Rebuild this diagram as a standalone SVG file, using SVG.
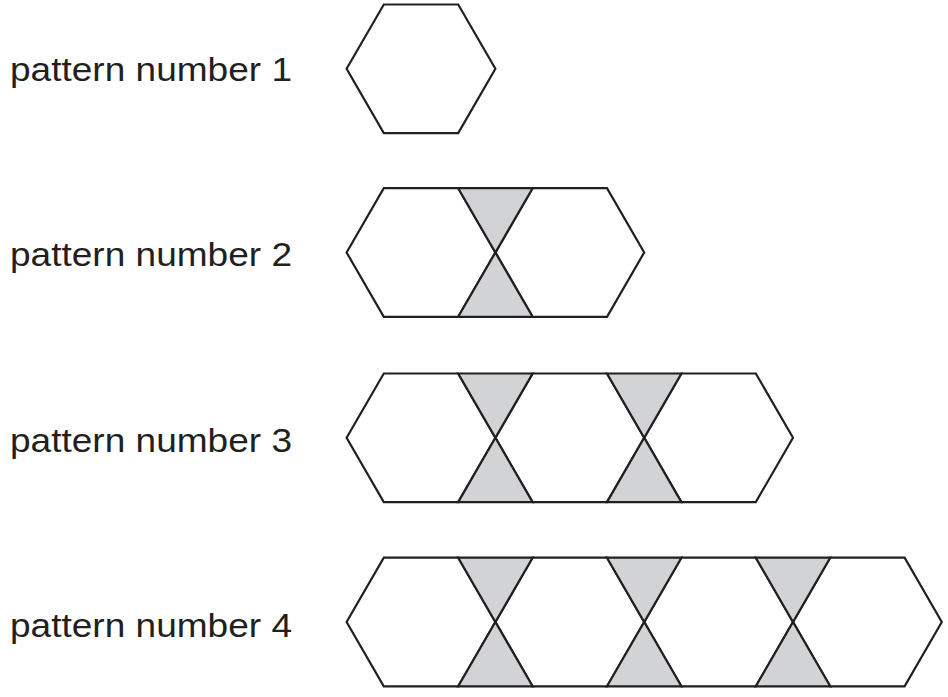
<svg xmlns="http://www.w3.org/2000/svg" xmlns:xlink="http://www.w3.org/1999/xlink" width="948" height="697" viewBox="0 0 948 697">
<style>
.lbl{font-family:"Liberation Sans","Open Sans",Arial,sans-serif;font-size:33px;fill:#231f20}
.hex{fill:#ffffff;stroke:#231f20;stroke-width:2.2;stroke-linejoin:miter}
.tie{fill:#d1d3d4;stroke:#231f20;stroke-width:2.2;stroke-linejoin:miter}
</style>
<defs>
<polygon id="hexshape" points="-74.4,0 -37.2,-64.3 37.2,-64.3 74.4,0 37.2,64.3 -37.2,64.3"/>
<path id="tieshape" d="M-37.2,-64.3 L37.2,-64.3 L0,0 Z M-37.2,64.3 L37.2,64.3 L0,0 Z"/>
</defs>
<rect width="948" height="697" fill="#ffffff"/>
<g id="pattern1">
<text class="lbl" x="10" y="81" textLength="282" lengthAdjust="spacingAndGlyphs">pattern number 1</text>
<use xlink:href="#hexshape" href="#hexshape" class="hex" x="421" y="68.8"/>
</g>
<g id="pattern2">
<text class="lbl" x="10" y="266" textLength="282" lengthAdjust="spacingAndGlyphs">pattern number 2</text>
<use href="#hexshape" class="hex" x="421" y="252.5"/>
<use href="#hexshape" class="hex" x="569.8" y="252.5"/>
<use href="#tieshape" class="tie" x="495.4" y="252.5"/>
</g>
<g id="pattern3">
<text class="lbl" x="10" y="452" textLength="282" lengthAdjust="spacingAndGlyphs">pattern number 3</text>
<use href="#hexshape" class="hex" x="421" y="437.8"/>
<use href="#hexshape" class="hex" x="569.8" y="437.8"/>
<use href="#hexshape" class="hex" x="718.6" y="437.8"/>
<use href="#tieshape" class="tie" x="495.4" y="437.8"/>
<use href="#tieshape" class="tie" x="644.2" y="437.8"/>
</g>
<g id="pattern4">
<text class="lbl" x="10" y="637" textLength="282" lengthAdjust="spacingAndGlyphs">pattern number 4</text>
<use href="#hexshape" class="hex" x="421" y="622"/>
<use href="#hexshape" class="hex" x="569.8" y="622"/>
<use href="#hexshape" class="hex" x="718.6" y="622"/>
<use href="#hexshape" class="hex" x="867.4" y="622"/>
<use href="#tieshape" class="tie" x="495.4" y="622"/>
<use href="#tieshape" class="tie" x="644.2" y="622"/>
<use href="#tieshape" class="tie" x="793" y="622"/>
</g>
<g id="connectors"></g>
</svg>
